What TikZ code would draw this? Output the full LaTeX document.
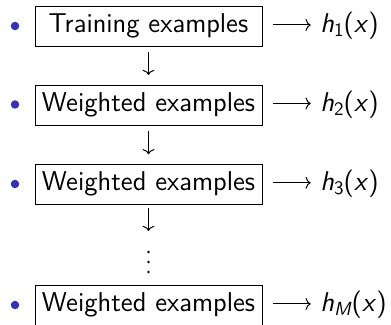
\documentclass[tikz,border=0pt]{standalone}
\usepackage{fontspec}
\usetikzlibrary{arrows.meta}
\definecolor{bulletblue}{RGB}{51,51,179}
\newcommand\hsub[1]{\textit{h}\raisebox{-2pt}{\fontsize{9.5}{10}\selectfont #1}(\textit{x})}
\begin{document}
\begin{tikzpicture}[x=0.5pt,y=-0.5pt,
  every node/.style={font=\sffamily\fontsize{13.6}{16}\selectfont},
  bx/.style={draw, line width=0.5pt, minimum width=113.5pt, minimum height=20pt, inner sep=0pt, text height=9.9pt, text depth=3.9pt},
  bul/.style={circle, fill=bulletblue, inner sep=0pt, minimum size=4.25pt},
  hlab/.style={anchor=base west, inner sep=0pt},
  conn/.style={line width=0.5pt, -{To[length=2.6pt,width=6pt]}}]
\useasboundingbox (0,0) rectangle (391,325);
% boxes
\node[bx] (b1) at (148.5,27) {Training examples};
\node[bx] (b2) at (148.5,105.5) {Weighted examples};
\node[bx] (b3) at (148.5,184.8) {Weighted examples};
\node[bx] (b4) at (148.5,306) {Weighted examples};
% bullets
\node[bul] (u1) at (15,26) {};
\node[bul] (u2) at (15,104.5) {};
\node[bul] (u3) at (15,184) {};
\node[bul] (u4) at (15,305) {};
% outputs
\node[hlab] (h1) at (320,33) {\hsub{1}};
\node[hlab] (h2) at (320,111.5) {\hsub{2}};
\node[hlab] (h3) at (320,190.8) {\hsub{3}};
\node[hlab] (h4) at (320,312) {\hsub{\textit{M}}};
% horizontal connectors
\foreach \i in {1,2,3,4}{
  \draw[conn, shorten <=5.35pt, shorten >=4.65pt] ([yshift=1pt]b\i.east) -- ([yshift=1pt]b\i.east -| h\i.west);
}
% vertical connectors
\draw[conn, shorten <=2.5pt, shorten >=5pt] (b1.south) -- (b2.north);
\draw[conn, shorten <=2.5pt, shorten >=5pt] (b2.south) -- (b3.north);
\coordinate (a3) at (148.5,231);
\draw[conn, shorten <=1.5pt] (b3.south) -- (a3);
% dots
\node[inner sep=0pt, minimum size=2pt] (dots) at (148.5,262) {};
\fill (dots.center) circle[radius=0.65pt];
\fill ([yshift=5pt]dots.center) circle[radius=0.65pt];
\fill ([yshift=-5pt]dots.center) circle[radius=0.65pt];
\end{tikzpicture}
\end{document}
